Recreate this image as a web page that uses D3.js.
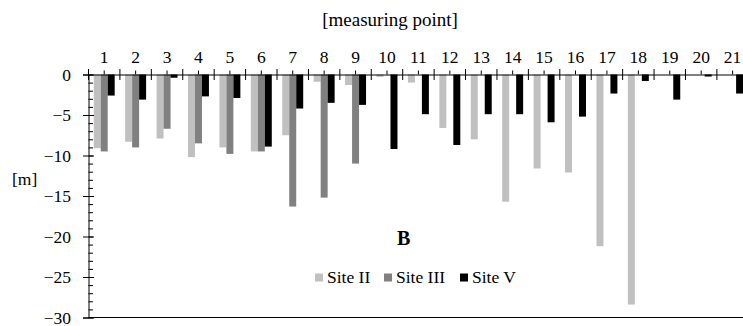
<!DOCTYPE html>
<html>
<head>
<meta charset="utf-8">
<script src="https://cdn.jsdelivr.net/npm/d3@7"></script>
<style>
  html, body { margin: 0; padding: 0; background: #fff; }
  svg { display: block; }
  svg text { font-family: 'Liberation Serif', 'Times New Roman', Times, 'DejaVu Serif', serif !important; fill: #000; }
</style>
</head>
<body>
<svg id="chart" width="743" height="326"></svg>
<script>
const categories = ["1","2","3","4","5","6","7","8","9","10","11","12","13","14","15","16","17","18","19","20","21"];
const seriesNames = ["Site II", "Site III", "Site V"];
const siteII  = [-9.1, -8.3, -7.9, -10.2, -9.0, -9.5, -7.5, -0.9, -1.3, -0.3, -1.0, -6.6, -8.0, -15.7, -11.6, -12.1, -21.2, -28.4, null, null, null];
const siteIII = [-9.5, -9.0, -6.7, -8.5, -9.8, -9.5, -16.3, -15.2, -11.0, null, null, null, null, null, null, null, null, null, null, null, null];
const siteV   = [-2.6, -3.1, -0.4, -2.7, -2.9, -8.9, -4.2, -3.5, -3.75, -9.2, -4.9, -8.7, -4.9, -4.9, -5.9, -5.2, -2.35, -0.8, -3.1, -0.25, -2.35];
const yTicks = [0, -5, -10, -15, -20, -25, -30];
const colors = ["#c0c0c0", "#808080", "#000000"];

const seriesData = [siteII, siteIII, siteV];
const svg = d3.select("#chart");
const FONT = "17.5px";
const FAMILY = "'Liberation Serif', 'Times New Roman', Times, 'DejaVu Serif', serif";

const x0 = 88.5, xEnd = 88.5 + 21 * 31.42;
const y = d3.scaleLinear().domain([-30, 0]).range([317.5, 74.5]);
const x = d3.scaleBand().domain(categories).range([x0, xEnd]).paddingInner(0).paddingOuter(0);
const xs = d3.scaleBand().domain(seriesNames).range([0, x.bandwidth()]).paddingInner(0).paddingOuter(0.75);

// bars
seriesNames.forEach((name, si) => {
  const vals = seriesData[si];
  svg.append("g").selectAll("rect")
    .data(categories.map((c, i) => ({c, v: vals[i]})).filter(d => d.v !== null))
    .join("rect")
    .attr("x", d => x(d.c) + xs(name))
    .attr("width", xs.bandwidth())
    .attr("y", y(0))
    .attr("height", d => y(d.v) - y(0))
    .attr("fill", colors[si]);
});

// y axis: major ticks crossing, minor inside
const yMajOut = d3.axisLeft(y).tickValues(yTicks).tickSize(5.5).tickPadding(12).tickFormat(d3.format("d"));
const gy = svg.append("g").attr("transform", `translate(${x0},0)`).call(yMajOut);
gy.attr("font-family", FAMILY).attr("font-size", FONT);
gy.select(".domain").attr("stroke", "#000");
gy.selectAll("text").attr("font-family", FAMILY).style("font-size", FONT).attr("dy", "0.34em");
svg.append("g").attr("transform", `translate(${x0},0)`)
  .call(d3.axisLeft(y).tickValues(yTicks).tickSize(-5.5).tickFormat(""))
  .call(g => g.select(".domain").remove());
svg.append("g").attr("transform", `translate(${x0},0)`)
  .call(d3.axisLeft(y).tickValues(d3.range(-30, 1)).tickSize(-4.5).tickFormat(""))
  .call(g => g.select(".domain").remove());

// top category axis
const gx = svg.append("g").attr("transform", `translate(0,${y(0)})`)
  .call(d3.axisTop(x).tickSize(4).tickPadding(8).tickSizeOuter(0));
gx.attr("font-family", FAMILY).attr("font-size", FONT);
gx.select(".domain").attr("stroke", "#000");
gx.selectAll("text").attr("font-family", FAMILY).style("font-size", FONT);
// boundary ticks crossing the axis
const bounds = categories.map(c => x(c)).concat([xEnd]);
svg.append("g").selectAll("line").data(bounds).join("line")
  .attr("x1", d => d).attr("x2", d => d)
  .attr("y1", y(0) - 5.5).attr("y2", y(0) + 5.5)
  .attr("stroke", "#000");

// bottom line
svg.append("line").attr("x1", x0).attr("x2", xEnd).attr("y1", y(-30)).attr("y2", y(-30)).attr("stroke", "#000");

// titles
svg.append("text").attr("x", 390).attr("y", 25.5).attr("text-anchor", "middle").attr("font-family", FAMILY).style("font-size", "19px").text("[measuring point]");
svg.append("text").attr("x", 12).attr("y", 185).attr("font-family", FAMILY).style("font-size", FONT).text("[m]");
svg.append("text").attr("x", 397).attr("y", 245).attr("font-family", FAMILY).style("font-size", "20px").style("font-weight", "bold").text("B");

// legend
const legendX = [315, 384, 460];
seriesNames.forEach((name, i) => {
  const g = svg.append("g").attr("transform", `translate(${legendX[i]},273.5)`);
  g.append("rect").attr("width", 8).attr("height", 8).attr("fill", colors[i]);
  g.append("text").attr("x", 12).attr("y", 9.5).attr("font-family", FAMILY).style("font-size", FONT).text(name);
});
</script>
</body>
</html>
